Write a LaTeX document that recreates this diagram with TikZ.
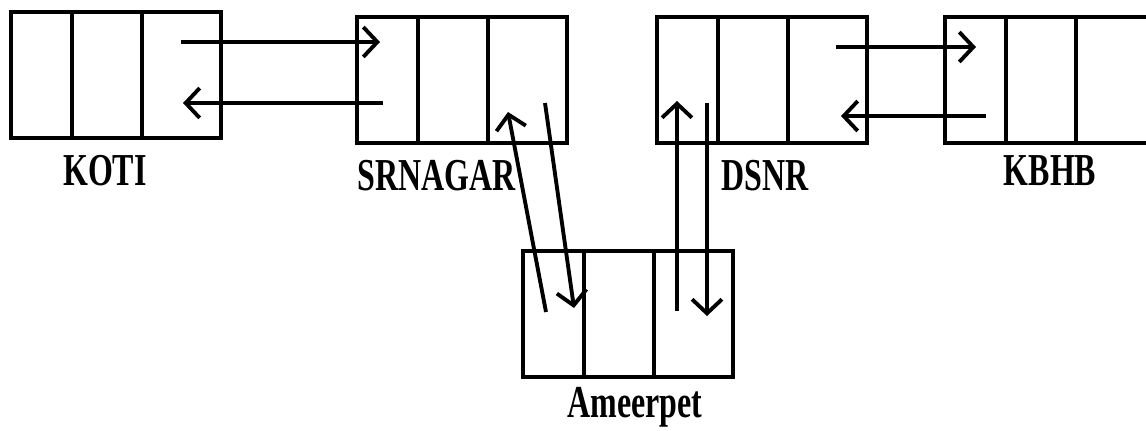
\documentclass[tikz,border=0pt]{standalone}
\usepackage{fontspec}
\newfontfamily\lblfont[FakeStretch=0.7]{Liberation Serif}
\usepackage{tikz}
\usetikzlibrary{arrows.meta, calc, positioning}

\tikzset{
  cellbox/.style={draw, line width=2.2pt, minimum width=4.2cm, minimum height=2.52cm, inner sep=0pt},
  divider/.style={line width=2.2pt},
  link/.style={line width=2.2pt, -{Straight Barb[length=8pt, width=17pt, line width=2.2pt]}},
  stationlbl/.style={anchor=base, inner sep=0pt, font=\lblfont\bfseries\fontsize{26}{28}\selectfont}
}

\begin{document}
\begin{tikzpicture}[x=0.02cm, y=-0.02cm]
    \useasboundingbox (0,0) rectangle (1146,430);

    % Station boxes
    \node[cellbox] (koti) at (116,75) {};
    \node[cellbox] (srnagar) at (462,80) {};
    \node[cellbox] (dsnr) at (762,80) {};
    \node[cellbox] (kbhb) at (1050,80) {};
    \node[cellbox] (ameerpet) at (628,314) {};

    % Three cells in each box
    \foreach \b in {koti, srnagar, dsnr, kbhb, ameerpet}
      \foreach \d in {1.26, 2.66}
        \draw[divider] ($(\b.north west)+(\d cm,0)$) -- ($(\b.south west)+(\d cm,0)$);

    % Names below
    \node[stationlbl] (kotilbl) at (105,185) {KOTI};
    \node[stationlbl] (srnagarlbl) at (437,190) {SRNAGAR};
    \node[stationlbl] (dsnrlbl) at (765,190) {DSNR};
    \node[stationlbl] (kbhblbl) at (1050,185) {KBHB};
    \node[stationlbl] (ameerpetlbl) at (635,417) {Ameerpet};

    % Link ends
    \coordinate (kotiOut) at (181,42);
    \coordinate (kotiIn) at (183,103);
    \coordinate (srIn) at (380,42);
    \coordinate (srOut) at (383,103);
    \coordinate (srDown) at (545,103);
    \coordinate (srUp) at (508,112);
    \coordinate (dsnrOut) at (836,47);
    \coordinate (dsnrIn) at (841,116);
    \coordinate (kbhbIn) at (976,47);
    \coordinate (kbhbOut) at (986,116);
    \coordinate (dsnrUp) at (677,101);
    \coordinate (dsnrDown) at (707,103);
    \coordinate (ampSrOut) at (546,312);
    \coordinate (ampSrIn) at (574,308);
    \coordinate (ampDsOut) at (677,311);
    \coordinate (ampDsIn) at (707,316);

    % Links
    \draw[link] (kotiOut) -- (srIn);
    \draw[link] (srOut) -- (kotiIn);
    \draw[link] (dsnrOut) -- (kbhbIn);
    \draw[link] (kbhbOut) -- (dsnrIn);
    \draw[link] (srDown) -- (ampSrIn);
    \draw[link] (ampSrOut) -- (srUp);
    \draw[link] (ampDsOut) -- (dsnrUp);
    \draw[link] (dsnrDown) -- (ampDsIn);
\end{tikzpicture}
\end{document}
